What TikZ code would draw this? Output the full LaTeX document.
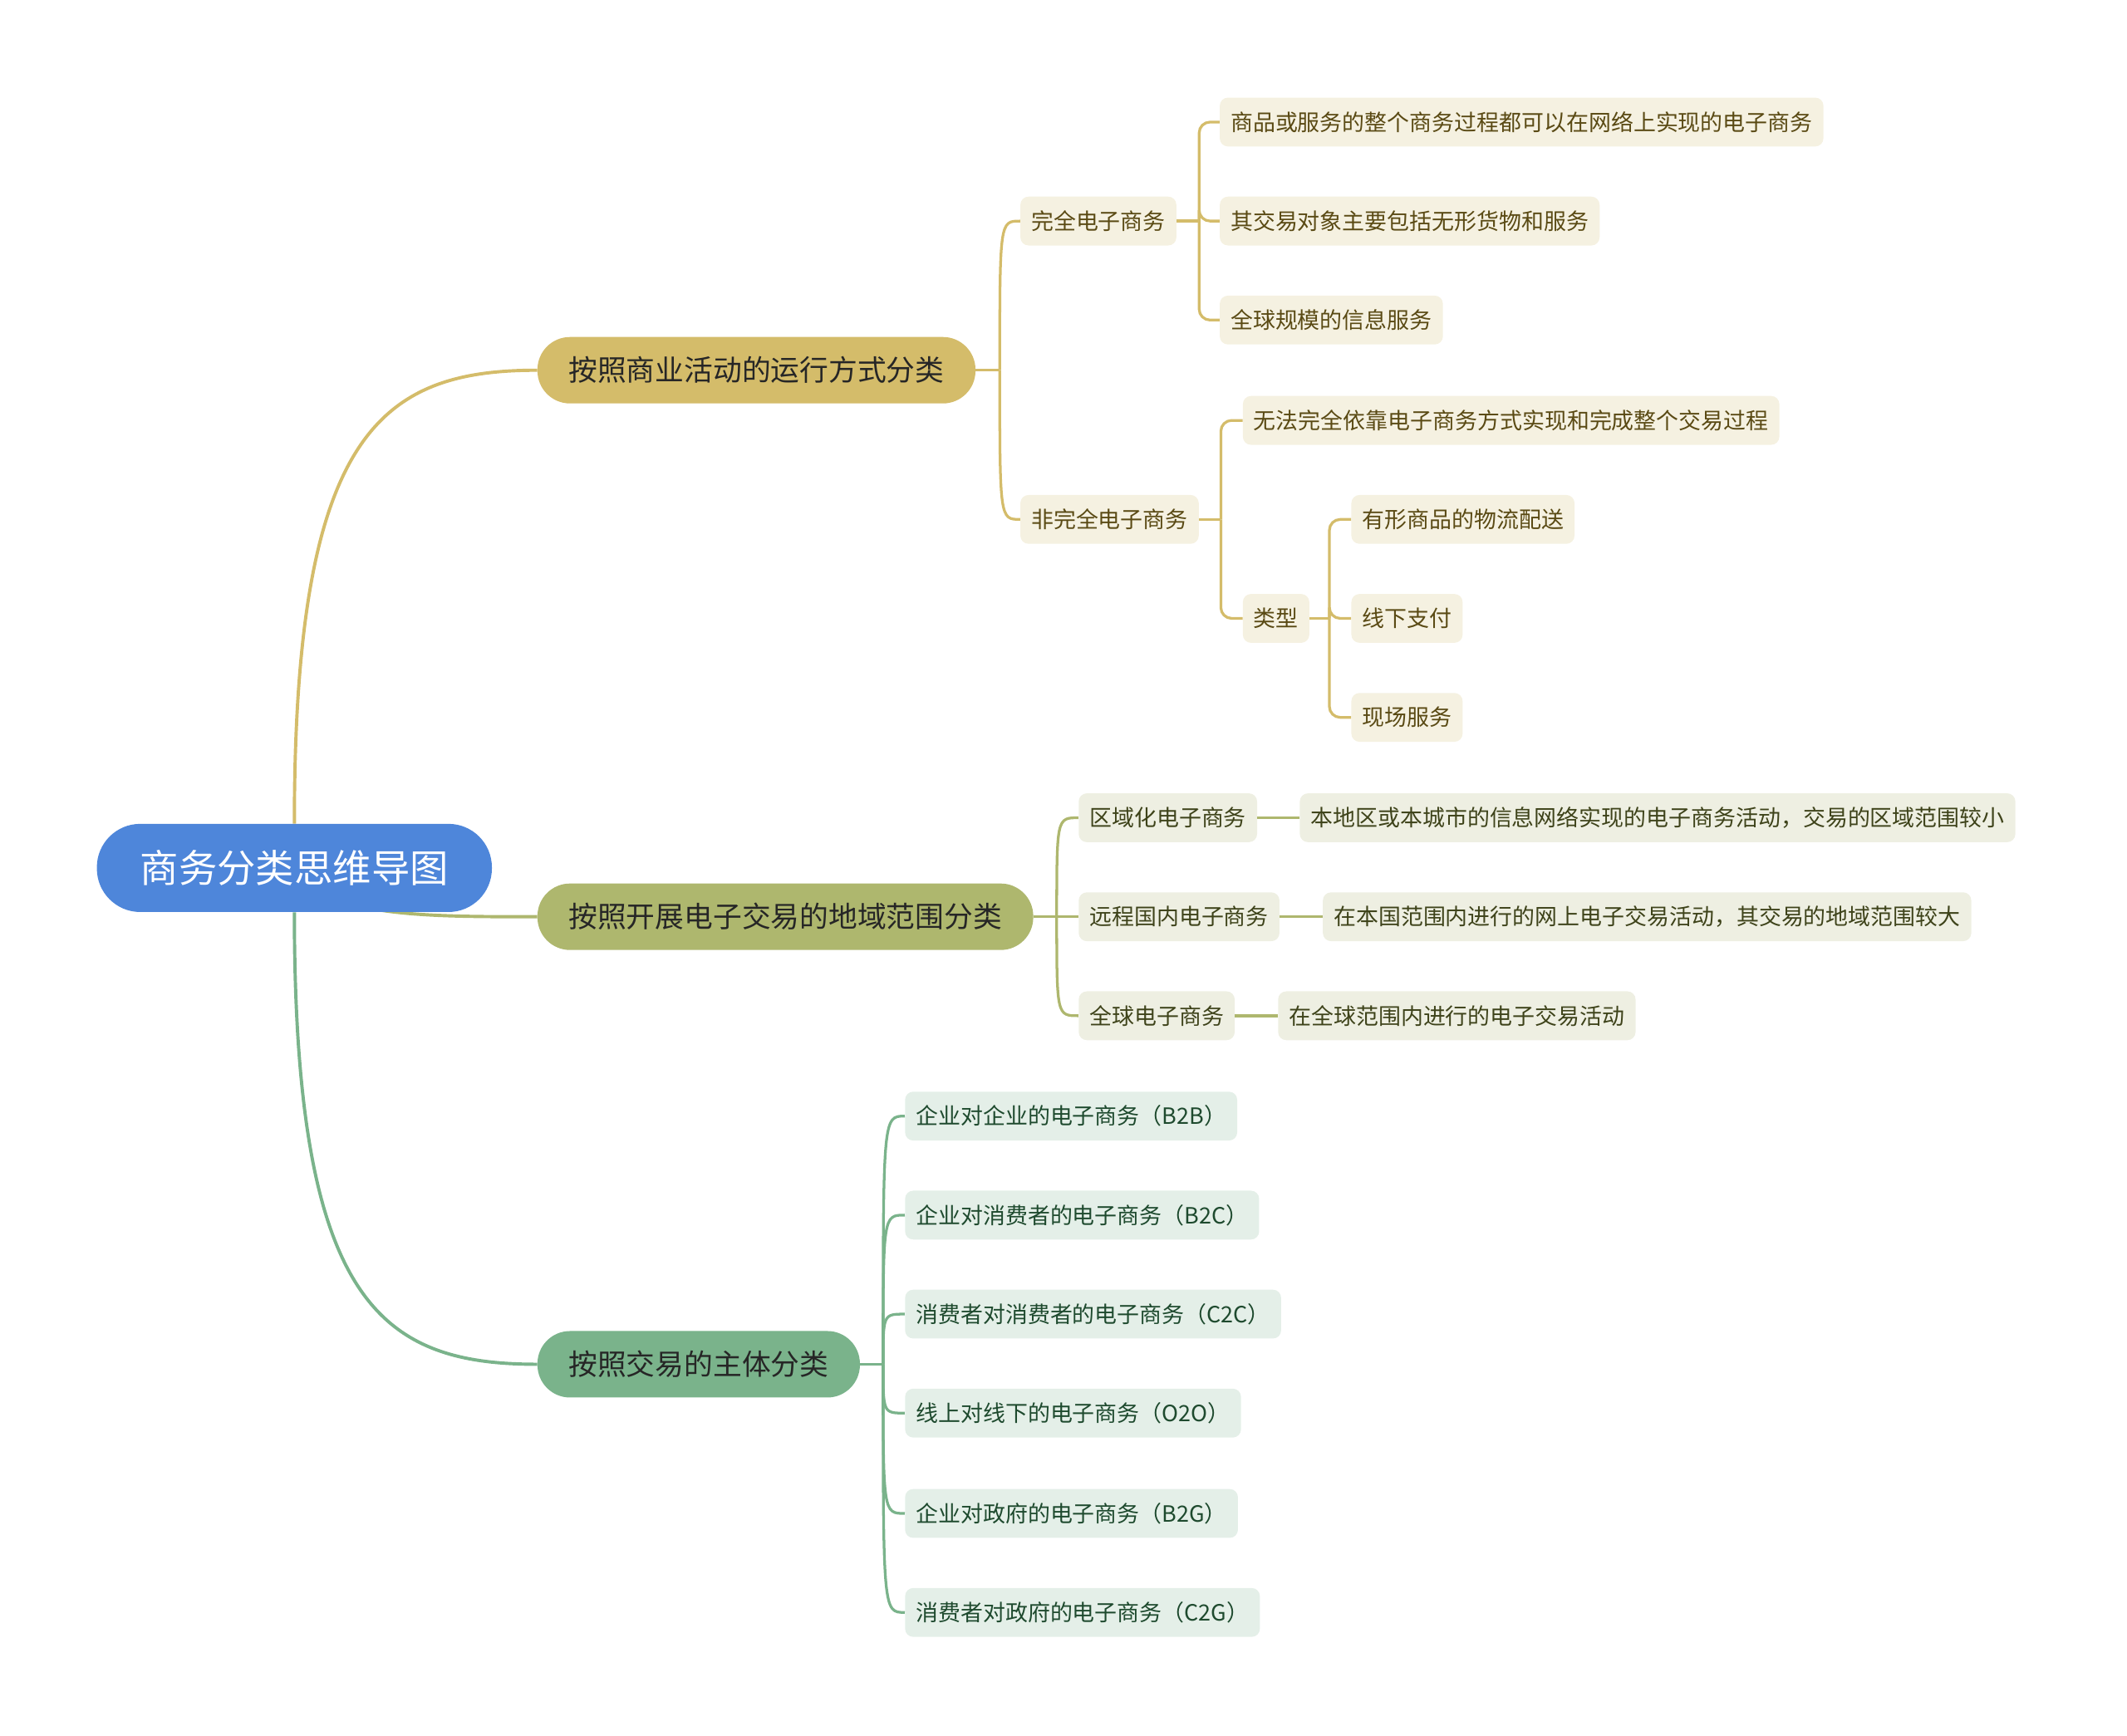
\documentclass[tikz,border=0pt]{standalone}
\usepackage{fontspec}
\setmainfont{Noto Sans CJK SC}
\usepackage{tikz}
\usetikzlibrary{backgrounds}

\definecolor{rootblue}{HTML}{4E86DA}
\definecolor{runcol}{HTML}{D4BC6A}
\definecolor{areacol}{HTML}{AEB76E}
\definecolor{partycol}{HTML}{7AB38B}
\definecolor{runleaf}{HTML}{F5F1E1}
\definecolor{arealeaf}{HTML}{EEEFE2}
\definecolor{partyleaf}{HTML}{E4EFE8}
\definecolor{runtext}{HTML}{5A4A14}
\definecolor{areatext}{HTML}{3E431A}
\definecolor{partytext}{HTML}{1E4A2E}

\begin{document}
\begin{tikzpicture}[x=1pt,y=-1pt,
    rootbox/.style={fill=rootblue,text=white,rounded corners=32pt,minimum height=65pt,inner xsep=32pt,font=\fontsize{28.4}{32}\selectfont},
    branchbox/.style={anchor=west,rounded corners=24pt,minimum height=49pt,inner xsep=23pt,text=black!85,font=\fontsize{21.3}{25}\selectfont},
    runbox/.style={anchor=west,fill=runleaf,text=runtext,rounded corners=6pt,minimum height=36pt,inner xsep=8pt,font=\fontsize{16.5}{20}\selectfont},
    areabox/.style={runbox,fill=arealeaf,text=areatext},
    partybox/.style={runbox,fill=partyleaf,text=partytext},
    runline/.style={draw=runcol,line width=2pt},
    arealine/.style={draw=areacol,line width=2pt},
    partyline/.style={draw=partycol,line width=2pt}]
\useasboundingbox (0,0) rectangle (1568,1280);

\node[rootbox] (root) at (217,640) {商务分类思维导图};

\node[branchbox,fill=runcol] (run) at (396,273) {按照商业活动的运行方式分类};
\node[branchbox,fill=areacol] (area) at (396,676) {按照开展电子交易的地域范围分类};
\node[branchbox,fill=partycol] (party) at (396,1006) {按照交易的主体分类};

\node[runbox] (full) at (752,163) {完全电子商务};
\node[runbox] (fullA) at (899,90) {商品或服务的整个商务过程都可以在网络上实现的电子商务};
\node[runbox] (fullB) at (899,163) {其交易对象主要包括无形货物和服务};
\node[runbox] (fullC) at (899,236) {全球规模的信息服务};
\node[runbox] (part) at (752,383) {非完全电子商务};
\node[runbox] (partA) at (916,310) {无法完全依靠电子商务方式实现和完成整个交易过程};
\node[runbox] (kind) at (916,456) {类型};
\node[runbox] (kindA) at (996,383) {有形商品的物流配送};
\node[runbox] (kindB) at (996,456) {线下支付};
\node[runbox] (kindC) at (996,529) {现场服务};

\node[areabox] (local) at (795,603) {区域化电子商务};
\node[areabox] (localD) at (958,603) {本地区或本城市的信息网络实现的电子商务活动，交易的区域范围较小};
\node[areabox] (home) at (795,676) {远程国内电子商务};
\node[areabox] (homeD) at (975,676) {在本国范围内进行的网上电子交易活动，其交易的地域范围较大};
\node[areabox] (world) at (795,749) {全球电子商务};
\node[areabox] (worldD) at (942,749) {在全球范围内进行的电子交易活动};

\node[partybox] (btob) at (667,823) {企业对企业的电子商务（B2B）};
\node[partybox] (btoc) at (667,896) {企业对消费者的电子商务（B2C）};
\node[partybox] (ctoc) at (667,969) {消费者对消费者的电子商务（C2C）};
\node[partybox] (oto) at (667,1042) {线上对线下的电子商务（O2O）};
\node[partybox] (btog) at (667,1116) {企业对政府的电子商务（B2G）};
\node[partybox] (ctog) at (667,1189) {消费者对政府的电子商务（C2G）};

\coordinate (runfork) at (737,273);
\coordinate (areafork) at (779,676);
\coordinate (partyfork) at (651,1006);
\coordinate (fullfork) at (884,163);
\coordinate (partfork) at (900,383);
\coordinate (kindfork) at (980,456);

\begin{scope}[on background layer]
\draw[runline,line width=2.4pt] (root.north) .. controls (217,320) and (280,273) .. (run.west);
\draw[arealine,line width=2.4pt] (root.center) .. controls (240,676) and (310,676) .. (area.west);
\draw[partyline,line width=2.4pt] (root.south) .. controls (217,960) and (280,1006) .. (party.west);
\end{scope}

\draw[runline] (run.east) -- (runfork);
\foreach \n in {full,part}
  \draw[runline] (runfork) .. controls (runfork |- \n.west) .. (\n.west);
\draw[arealine] (area.east) -- (areafork);
\foreach \n in {local,home,world}
  \draw[arealine] (areafork) .. controls (areafork |- \n.west) .. (\n.west);
\draw[partyline] (party.east) -- (partyfork);
\foreach \n in {btob,btoc,ctoc,oto,btog,ctog}
  \draw[partyline] (partyfork) .. controls (partyfork |- \n.west) .. (\n.west);

\draw[runline] (full.east) -- (fullfork);
\foreach \n in {fullA,fullB,fullC}
  \draw[runline,rounded corners=8pt] (fullfork) |- (\n.west);
\draw[runline] (part.east) -- (partfork);
\foreach \n in {partA,kind}
  \draw[runline,rounded corners=8pt] (partfork) |- (\n.west);
\draw[runline] (kind.east) -- (kindfork);
\foreach \n in {kindA,kindB,kindC}
  \draw[runline,rounded corners=8pt] (kindfork) |- (\n.west);

\draw[arealine] (local.east) -- (localD.west);
\draw[arealine] (home.east) -- (homeD.west);
\draw[arealine] (world.east) -- (worldD.west);
\end{tikzpicture}
\end{document}
